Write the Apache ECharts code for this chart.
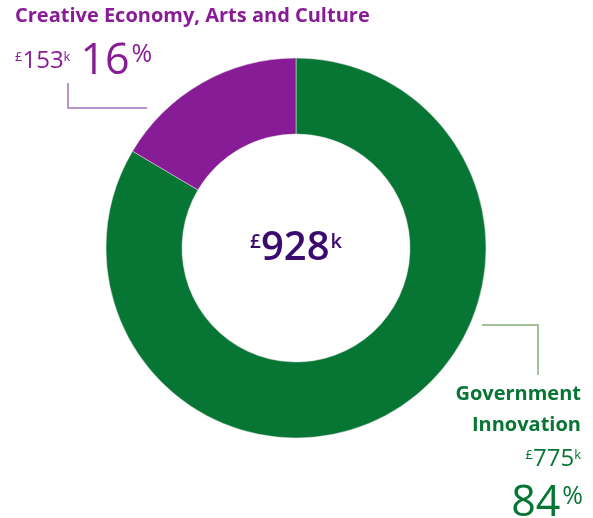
<!DOCTYPE html>
<html>
<head>
<meta charset="utf-8">
<script src="https://cdn.jsdelivr.net/npm/echarts@6/dist/echarts.min.js"></script>
<style>
  html, body { margin: 0; padding: 0; background: #ffffff; }
  #chart { width: 593px; height: 518px; }
</style>
</head>
<body>
<div id="chart"></div>
<script>
// Funding split by programme area (values in £ thousands)
const categories = ['Government Innovation', 'Creative Economy, Arts and Culture'];
const amounts = [775, 153];
const colors = ['#077533', '#871c96'];
const lineColors = ['#a5bf9b', '#bb96c9'];
const totalColor = '#3b0a6e';

const total = amounts.reduce((a, b) => a + b, 0);
const pct = amounts.map(v => Math.round(v / total * 100));

const FONT = '"Open Sans", Lato, sans-serif';

function moneyRich(color) {
  return {
    sup: { fontFamily: FONT, fontSize: 13, fill: color, padding: [0, 0, 8, 0] },
    num: { fontFamily: FONT, fontSize: 24, fill: color },
    big: { fontFamily: FONT, fontSize: 43, fill: color, padding: [0, 0, 0, 10] },
    pct: { fontFamily: FONT, fontSize: 25, fill: color, padding: [0, 0, 14, 2] }
  };
}

const chart = echarts.init(document.getElementById('chart'), null, { renderer: 'canvas' });

chart.setOption({
  backgroundColor: '#ffffff',
  animation: false,
  series: [{
    type: 'pie',
    center: [296, 248],
    radius: [114, 190],
    startAngle: 90,
    clockwise: true,
    silent: true,
    label: { show: false },
    labelLine: { show: false },
    itemStyle: { borderColor: '#e8e8e8', borderWidth: 0.5 },
    data: categories.map((name, i) => ({
      name: name,
      value: amounts[i],
      itemStyle: { color: colors[i] }
    }))
  }],
  graphic: [
    // total in the middle of the ring
    {
      type: 'text',
      style: {
        x: 296, y: 249,
        align: 'center', verticalAlign: 'middle',
        text: '{s|£}{n|' + total + '}{k|k}',
        rich: {
          s: { fontFamily: FONT, fontSize: 19, fontWeight: 600, fill: totalColor, padding: [0, 0, 12, 0] },
          n: { fontFamily: FONT, fontSize: 40, fontWeight: 600, fill: totalColor },
          k: { fontFamily: FONT, fontSize: 20, fontWeight: 600, fill: totalColor, padding: [0, 0, 14, 1] }
        }
      }
    },
    // Creative Economy label block (top left)
    {
      type: 'text',
      style: {
        x: 15, y: 6,
        text: categories[1],
        fontFamily: FONT, fontSize: 20, fontWeight: 'bold', fill: colors[1]
      }
    },
    {
      type: 'text',
      style: {
        x: 15, y: 40,
        text: '{sup|£}{num|' + amounts[1] + '}{sup|k}{big|' + pct[1] + '}{pct|%}',
        rich: moneyRich(colors[1])
      }
    },
    {
      type: 'polyline',
      shape: { points: [[68, 83], [68, 108], [147, 108]] },
      style: { stroke: lineColors[1], lineWidth: 2, fill: null }
    },
    // Government Innovation label block (bottom right)
    {
      type: 'polyline',
      shape: { points: [[482, 325], [538, 325], [538, 375]] },
      style: { stroke: lineColors[0], lineWidth: 2, fill: null }
    },
    {
      type: 'text',
      style: {
        x: 581, y: 379,
        align: 'right',
        text: 'Government\nInnovation',
        lineHeight: 31,
        fontFamily: FONT, fontSize: 20, fontWeight: 'bold', fill: colors[0]
      }
    },
    {
      type: 'text',
      style: {
        x: 581, y: 447,
        align: 'right',
        text: '{sup|£}{num|' + amounts[0] + '}{sup|k}',
        rich: moneyRich(colors[0])
      }
    },
    {
      type: 'text',
      style: {
        x: 583, y: 482,
        align: 'right',
        text: '{big|' + pct[0] + '}{pct|%}',
        rich: moneyRich(colors[0])
      }
    }
  ]
});
</script>
</body>
</html>
